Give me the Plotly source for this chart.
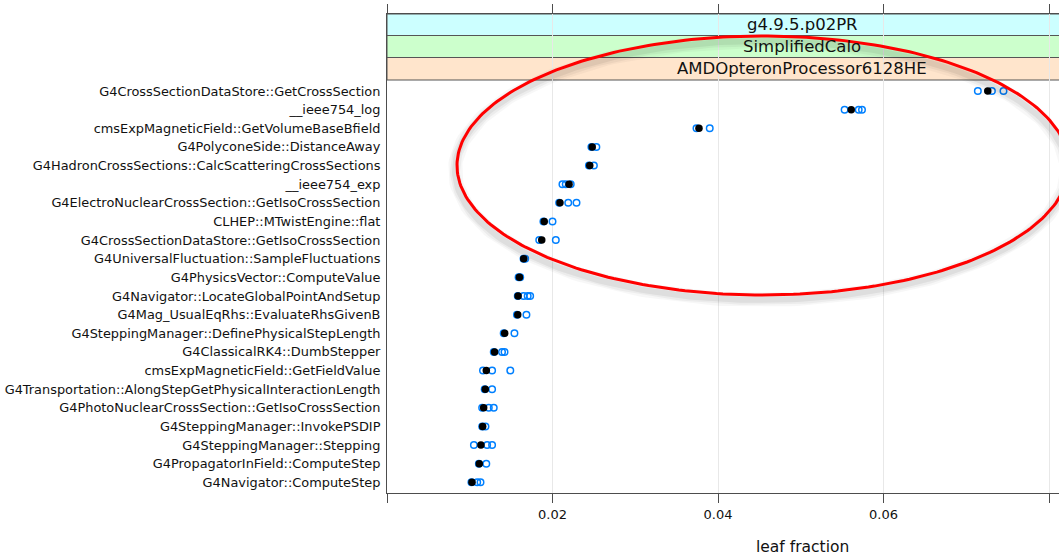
import numpy as np
import plotly.graph_objects as go

# ---------------- data ----------------
functions = [
    "G4CrossSectionDataStore::GetCrossSection",
    "__ieee754_log",
    "cmsExpMagneticField::GetVolumeBaseBfield",
    "G4PolyconeSide::DistanceAway",
    "G4HadronCrossSections::CalcScatteringCrossSections",
    "__ieee754_exp",
    "G4ElectroNuclearCrossSection::GetIsoCrossSection",
    "CLHEP::MTwistEngine::flat",
    "G4CrossSectionDataStore::GetIsoCrossSection",
    "G4UniversalFluctuation::SampleFluctuations",
    "G4PhysicsVector::ComputeValue",
    "G4Navigator::LocateGlobalPointAndSetup",
    "G4Mag_UsualEqRhs::EvaluateRhsGivenB",
    "G4SteppingManager::DefinePhysicalStepLength",
    "G4ClassicalRK4::DumbStepper",
    "cmsExpMagneticField::GetFieldValue",
    "G4Transportation::AlongStepGetPhysicalInteractionLength",
    "G4PhotoNuclearCrossSection::GetIsoCrossSection",
    "G4SteppingManager::InvokePSDIP",
    "G4SteppingManager::Stepping",
    "G4PropagatorInField::ComputeStep",
    "G4Navigator::ComputeStep",
]

mean_fraction = [0.0726, 0.0561, 0.0377, 0.0248, 0.0245, 0.0220, 0.0209, 0.0190,
                 0.0187, 0.01652, 0.0160, 0.01584, 0.0158, 0.01422, 0.0130, 0.0120,
                 0.01188, 0.01168, 0.01156, 0.01135, 0.01115, 0.01027]

run_1 = [0.0714, 0.0553, 0.0374, 0.0247, 0.0244, 0.0212, 0.0208, 0.0189,
         0.0184, 0.0165, 0.0159, 0.0158, 0.0157, 0.0141, 0.0129, 0.0116,
         0.0118, 0.0115, 0.0115, 0.0105, 0.0111, 0.0102]
run_2 = [0.0731, 0.0570, 0.0390, 0.0253, 0.0250, 0.0216, 0.0219, 0.0200,
         0.0204, 0.0167, 0.0161, 0.0165, 0.01685, 0.0154, 0.0139, 0.0127,
         0.0127, 0.0123, 0.0119, 0.0121, 0.0120, 0.0109]
run_3 = [0.0745, 0.0574, None, None, None, 0.0222, 0.0229, None,
         None, None, None, 0.0170, None, None, 0.0142, 0.0149,
         None, 0.0129, None, 0.0127, None, 0.0113]
run_4 = [None, None, None, None, None, None, None, None,
         None, None, None, 0.0173, None, None, None, None,
         None, None, None, None, None, None]

x_ticks = [0.0, 0.02, 0.04, 0.06, 0.08]
x_tick_text = ["", "0.02", "0.04", "0.06", "0.08"]
strip_labels = ["g4.9.5.p02PR", "SimplifiedCalo", "AMDOpteronProcessor6128HE"]
strip_colors = ["#ccffff", "#ccffcc", "#ffe5cc"]
x_title = "leaf fraction"

# ---------------- layout geometry ----------------
W, H = 1059, 557
ML, MR, MT, MB = 387, 0, 14, 64
PW, PH = W - ML - MR, H - MT - MB
PX_PER_UNIT = 8275.0
X_MAX = PW / PX_PER_UNIT
ROW0_PX, ROW_STEP = 482.3, 18.63     # bottom row centre / spacing in px
y_lo = -(H - MB - ROW0_PX) / ROW_STEP
y_hi = (ROW0_PX - MT) / ROW_STEP


def py2paper(py):
    return (H - MB - py) / PH


def px2x(px):
    return (px - ML) / PX_PER_UNIT


FONT = "DejaVu Sans"
BLUE = "#0080ff"

fig = go.Figure()

for run in (run_1, run_2, run_3, run_4):
    fig.add_trace(go.Scatter(
        x=run, y=functions, mode="markers", showlegend=False,
        marker=dict(symbol="circle-open", size=6.5, color=BLUE,
                    line=dict(width=1.5, color=BLUE)),
        hoverinfo="x+y"))

fig.add_trace(go.Scatter(
    x=mean_fraction, y=functions, mode="markers", showlegend=False,
    marker=dict(symbol="circle", size=7.5, color="black"),
    hoverinfo="x+y"))

# red highlight ellipse (annotation) with soft shadow, on an overlay axis in paper units
cx, cy, a, b = 763, 165.5, 306, 129.5
t = np.linspace(0, 2 * np.pi, 300)


def ellipse_xy(dx=0.0, dy=0.0):
    ex = cx + dx + a * np.cos(t)
    ey = cy + dy + b * np.sin(t)
    return px2x(ex), py2paper(ey)


for w, op in ((14, 0.03), (10, 0.045), (6, 0.06)):
    sx, sy = ellipse_xy(-2, 5)
    fig.add_trace(go.Scatter(x=sx, y=sy, yaxis="y2", mode="lines", showlegend=False,
                             hoverinfo="skip",
                             line=dict(color="rgba(0,0,0,%g)" % op, width=w)))
ex_, ey_ = ellipse_xy()
fig.add_trace(go.Scatter(x=ex_, y=ey_, yaxis="y2", mode="lines", showlegend=False,
                         hoverinfo="skip", line=dict(color="#ff0000", width=3)))

shapes = []
strip_px = [14, 35.5, 57.5, 80]
for i, col in enumerate(strip_colors):
    shapes.append(dict(type="rect", xref="paper", yref="paper",
                       x0=0, x1=1.02, y0=py2paper(strip_px[i + 1]), y1=py2paper(strip_px[i]),
                       fillcolor=col, line=dict(color="#555555", width=1), layer="between"))

annotations = []
for i, lab in enumerate(strip_labels):
    annotations.append(dict(text=lab, x=0.0502, xref="x", yref="paper",
                            y=py2paper((strip_px[i] + strip_px[i + 1]) / 2),
                            showarrow=False, xanchor="center", yanchor="middle",
                            font=dict(family=FONT, size=16.5, color="#111111")))
annotations.append(dict(text=x_title, x=0.0502, xref="x", yref="paper", y=py2paper(547),
                        showarrow=False, xanchor="center", yanchor="middle",
                        font=dict(family=FONT, size=15.5, color="#111111")))

fig.update_layout(
    width=W, height=H,
    margin=dict(l=ML, r=MR, t=MT, b=MB, pad=0),
    paper_bgcolor="white", plot_bgcolor="white",
    shapes=shapes, annotations=annotations,
    xaxis=dict(range=[0, X_MAX], tickvals=x_ticks, ticktext=x_tick_text,
               ticks="outside", ticklen=9, tickcolor="#4d4d4d", tickwidth=1,
               showline=True, linecolor="#4d4d4d", linewidth=1, mirror="ticks",
               showgrid=True, gridcolor="#e8e8e8", gridwidth=1, zeroline=False,
               tickfont=dict(family=FONT, size=13, color="#111111")),
    yaxis=dict(type="category", categoryorder="array", categoryarray=functions[::-1],
               range=[y_lo, y_hi], ticks="", showline=True, linecolor="#4d4d4d",
               linewidth=1, mirror=False, showgrid=False, zeroline=False,
               ticklabelstandoff=3,
               tickfont=dict(family=FONT, size=12.9, color="#111111")),
    yaxis2=dict(overlaying="y", range=[0, 1], visible=False, fixedrange=True),
)

fig.write_html("out.html")
